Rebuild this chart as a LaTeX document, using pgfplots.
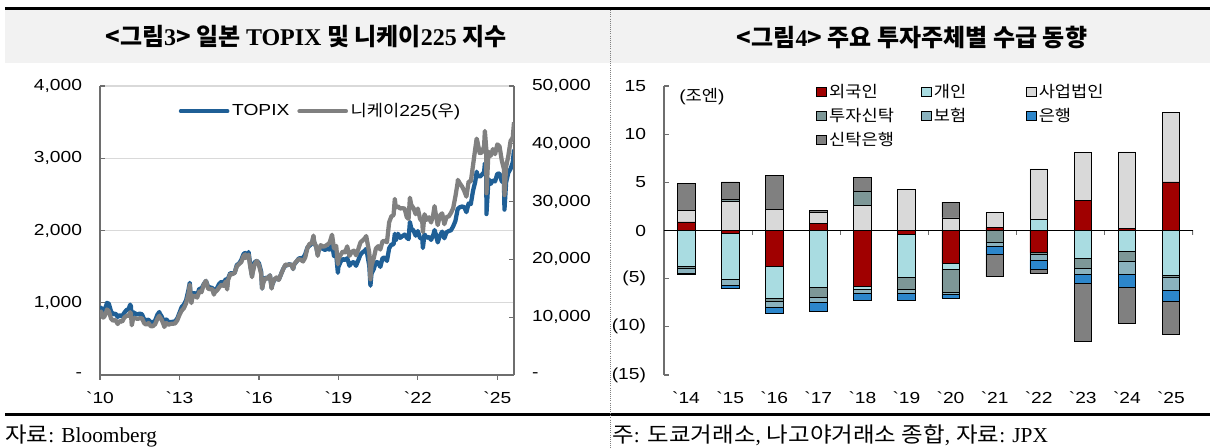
\documentclass[border=0pt]{standalone}
\usepackage{fontspec}
\setmainfont{Liberation Sans}
\newfontfamily\arial{Liberation Sans}[FakeStretch=1.2]
\newfontfamily\kr{Noto Sans CJK KR}
\newfontfamily\krw{Noto Sans CJK KR}[FakeStretch=1.1]
\newfontfamily\tms{Liberation Serif}
\usepackage{pgfplots}
\usepackage{pgfplotstable}
\pgfplotsset{compat=1.18}

\definecolor{topix}{HTML}{1F5F96}
\definecolor{nk}{HTML}{808080}
\definecolor{cF}{HTML}{A00000}
\definecolor{cI}{HTML}{A9DCE1}
\definecolor{cC}{HTML}{D9D9D9}
\definecolor{cT}{HTML}{7D9797}
\definecolor{cS}{HTML}{8AB2BE}
\definecolor{cB}{HTML}{2C86CB}
\definecolor{cTB}{HTML}{808080}
\definecolor{band}{HTML}{F2F2F2}
\definecolor{gridc}{HTML}{D9D9D9}
\definecolor{axisdark}{HTML}{6E6E6E}

\newcommand\tf{\arial\fontsize{12}{14}\selectfont}
\newcommand\krb{\kr\bfseries}
\newcommand\tmsb{\tms\bfseries}

% TOPIX (left) and Nikkei 225 (right), decimal years
\pgfplotstableread{
t        topix nikkei
2010.000  915 10654
2010.040  930 10982
2010.083  901 10198
2010.120  876  9932
2010.167  894 10126
2010.250  979 11089
2010.260  998 11339
2010.333  987 11057
2010.417  880  9768
2010.500  841  9382
2010.583  850  9537
2010.667  804  8824
2010.750  829  9369
2010.833  810  9202
2010.917  861  9937
2011.000  899 10228
2011.083  911 10237
2011.140  974 10857
2011.167  951 10624
2011.200  766  8605
2011.250  869  9755
2011.333  851  9849
2011.417  838  9693
2011.500  849  9816
2011.583  841  9833
2011.667  770  8955
2011.750  761  8700
2011.833  764  8988
2011.917  729  8434
2012.000  729  8455
2012.083  755  8802
2012.167  835  9723
2012.240  872 10255
2012.250  854 10083
2012.333  808  9520
2012.417  719  8542
2012.425  695  8296
2012.500  770  9006
2012.583  736  8695
2012.667  731  8839
2012.750  737  8870
2012.833  742  8928
2012.917  781  9446
2013.000  860 10395
2013.083  940 11138
2013.167  975 11559
2013.250 1034 12397
2013.333 1165 13860
2013.390 1276 15627
2013.417 1135 13774
2013.450 1045 12445
2013.500 1133 13677
2013.583 1131 13668
2013.667 1106 13388
2013.750 1194 14455
2013.833 1194 14327
2013.917 1258 15662
2014.000 1302 16291
2014.083 1220 14914
2014.167 1211 14841
2014.250 1203 14828
2014.300 1132 13910
2014.333 1163 14304
2014.417 1202 14632
2014.500 1262 15162
2014.583 1289 15621
2014.667 1277 15425
2014.750 1326 16174
2014.800 1227 14804
2014.833 1333 16414
2014.917 1410 17460
2015.000 1407 17451
2015.083 1415 17674
2015.167 1523 18798
2015.250 1543 19207
2015.333 1592 19520
2015.417 1673 20563
2015.480 1690 20868
2015.500 1630 20236
2015.583 1659 20585
2015.610 1702 20808
2015.667 1537 18890
2015.740 1375 16931
2015.750 1411 17388
2015.833 1558 19083
2015.917 1580 19747
2016.000 1547 19034
2016.083 1432 17518
2016.120 1196 14952
2016.167 1297 16027
2016.250 1347 16759
2016.333 1340 16666
2016.417 1379 17235
2016.480 1204 14952
2016.500 1245 15576
2016.583 1322 16569
2016.667 1329 16887
2016.750 1322 16450
2016.833 1393 17425
2016.917 1469 18308
2017.000 1518 19114
2017.083 1521 19041
2017.167 1535 19119
2017.250 1512 18909
2017.290 1467 18335
2017.333 1531 19197
2017.417 1568 19651
2017.500 1612 20033
2017.583 1618 19925
2017.667 1617 19646
2017.750 1674 20356
2017.833 1765 22012
2017.917 1792 22725
2018.000 1818 22765
2018.060 1911 24124
2018.083 1836 23098
2018.167 1768 22068
2018.220 1665 20617
2018.250 1716 21454
2018.333 1777 22468
2018.417 1747 22202
2018.500 1730 22305
2018.583 1753 22554
2018.667 1735 22865
2018.750 1817 24120
2018.760 1823 24270
2018.833 1646 21920
2018.917 1667 22351
2018.980 1415 19155
2019.000 1494 20015
2019.083 1567 20773
2019.167 1607 21385
2019.250 1591 21206
2019.333 1617 22259
2019.417 1512 20601
2019.500 1551 21276
2019.583 1565 21522
2019.667 1511 20704
2019.750 1587 21756
2019.833 1667 22927
2019.917 1699 23294
2020.000 1721 23657
2020.050 1746 24041
2020.083 1684 23205
2020.167 1510 21143
2020.210 1236 16553
2020.250 1403 18917
2020.333 1464 20194
2020.417 1563 21878
2020.500 1558 22288
2020.583 1496 21710
2020.667 1618 23140
2020.750 1625 23185
2020.833 1579 22977
2020.917 1754 26434
2021.000 1805 27444
2021.083 1808 27663
2021.130 1955 30468
2021.167 1864 28966
2021.250 1954 29179
2021.333 1898 28813
2021.417 1922 28860
2021.500 1944 28792
2021.583 1901 27284
2021.650 1880 27013
2021.700 2118 30670
2021.750 2030 29453
2021.833 2001 28893
2021.917 1928 27822
2022.000 1992 28792
2022.083 1896 27002
2022.167 1886 26527
2022.190 1758 24718
2022.250 1946 27821
2022.333 1899 26848
2022.417 1912 27280
2022.500 1870 26393
2022.583 1940 27802
2022.630 2006 29222
2022.667 1964 28092
2022.750 1835 25937
2022.833 1929 27587
2022.917 1985 27969
2023.000 1892 26095
2023.083 1975 27327
2023.167 1993 27446
2023.250 2003 28041
2023.333 2057 28856
2023.417 2131 30888
2023.500 2289 33189
2023.510 2300 33753
2023.583 2322 33172
2023.667 2332 32619
2023.750 2324 31858
2023.833 2254 30859
2023.917 2374 33487
2024.000 2366 33464
2024.083 2551 36287
2024.167 2675 39166
2024.220 2814 40888
2024.250 2768 40369
2024.333 2743 38406
2024.417 2772 38488
2024.500 2809 39583
2024.530 2929 42224
2024.583 2794 39102
2024.590 2227 31458
2024.667 2712 38648
2024.750 2645 37920
2024.833 2695 39081
2024.917 2680 38208
2025.000 2785 39895
2025.083 2788 39572
2025.167 2682 37156
2025.250 2659 35618
2025.270 2289 31136
2025.333 2667 36045
2025.417 2801 37965
2025.500 2853 40487
2025.583 2943 41069
2025.630 3121 43714
}\idx

% net buying (trillion yen), positive parts
\pgfplotstableread{
x F    I    C    T    S   B   TB
0 0.9  0    1.15 0    0   0   2.85
1 0    0    3.0  0.2  0   0   1.85
2 0    0    2.2  0    0   0   3.55
3 0.7  0    1.2  0    0   0   0.15
4 0    0    2.6  1.45 0   0   1.5
5 0    0    4.25 0    0   0   0
6 0    0    1.3  0    0   0   1.65
7 0.3  0    1.6  0    0   0   0
8 0    1.2  5.2  0    0   0   0
9 3.15 0    4.95 0    0   0   0
10 0.2 0    7.95 0    0   0   0
11 5.05 0   7.2  0    0   0   0
}\postab

% negative parts
\pgfplotstableread{
x F     I     C  T     S     B     TB
0 0     -3.75 0  -0.2  -0.45 -0.15 0
1 -0.25 -4.8  0  0     -0.6  -0.35 0
2 -3.75 -3.25 0  -0.3  -0.7  -0.55 0
3 0     -5.85 0  -1.05 -0.6  -0.9  0
4 -5.8  -0.3  0  0     -0.4  -0.75 0
5 -0.4  -4.5  0  -1.2  -0.45 -0.7  0
6 -3.4  -0.6  0  -2.4  -0.25 -0.35 0
7 0     0     0  -1.25 -0.4  -0.85 -2.3
8 -2.3  0     0  -0.15 -0.6  -0.95 -0.4
9 0     -2.9  0  -1.05 -0.55 -1.0  -6.0
10 0    -2.15 0  -1.05 -1.35 -1.3  -3.8
11 0    -4.6  0  -0.3  -1.35 -1.05 -3.45
}\negtab

\pgfplotsset{
  sq/.style={draw=black, line width=0.4pt,
    legend image code/.code={\draw[##1,draw=black,line width=0.4pt] (0pt,-3.6pt) rectangle (7.2pt,3.6pt);}},
  barbox/.style={at={(498pt,-281.25pt)}, anchor=south west, scale only axis,
    width=396.75pt, height=216.75pt, xmin=-0.5, xmax=11.5, ymin=-15, ymax=15,
    ybar stacked, bar width=13.1pt},
  linebox/.style={at={(75pt,-281.25pt)}, anchor=south west, scale only axis,
    width=310.5pt, height=216.75pt, xmin=2010, xmax=2025.63},
}

\begin{document}
\begin{tikzpicture}
\path[use as bounding box] (0,0) rectangle (907.5pt,-336pt);
\begin{scope}[x=0.75pt,y=-0.75pt]
  \fill[band] (5,10) rectangle (1210,63);
  \fill[black] (5,7) rectangle (1210,10);
  \fill[black] (5,413.3) rectangle (1210,415.7);
  \draw[gray, densely dotted, line width=0.6pt] (610,10) -- (610,448);
  \node[font=\fontsize{18}{20}\selectfont] at (306,37)
    {\krb <그림{\tmsb 3}> 일본 {\tmsb TOPIX} 및 니케이{\tmsb 225} 지수};
  \node[font=\fontsize{18}{20}\selectfont] at (912,37)
    {\krb <그림{\tmsb 4}> 주요 투자주체별 수급 동향};
  \node[anchor=base west, inner sep=0pt, font=\fontsize{16}{18}\selectfont] at (5,443)
    {{\krw 자료}{\tms : Bloomberg}};
  \node[anchor=base west, inner sep=0pt, font=\fontsize{16}{18}\selectfont] at (612,443)
    {{\krw 주}{\tms :} {\krw 도쿄거래소}{\tms ,} {\krw 나고야거래소 종합}{\tms ,} {\krw 자료}{\tms : JPX}};
  \node[anchor=west, inner sep=0pt, font=\fontsize{12}{14}\selectfont] at (679,97)
    {{\arial (}{\krw 조엔}{\arial )}};
\end{scope}

% left chart, left axis
\begin{axis}[linebox, ymin=0, ymax=4000,
  axis x line*=bottom, axis y line*=left,
  axis line style={-, draw=axisdark, line width=0.9pt},
  xtick={2010,2013,2016,2019,2022,2025},
  xticklabels={`10,`13,`16,`19,`22,`25},
  ytick={0,1000,2000,3000,4000},
  yticklabels={-,{1,000},{2,000},{3,000},{4,000}},
  tick align=inside, major tick length=3.5pt,
  tick style={draw=axisdark, line width=0.9pt},
  major x tick style={yshift=-3.5pt},
  ymajorgrids, y grid style={draw=gridc, line width=0.9pt},
  ticklabel style={font=\tf},
  yticklabel style={xshift=-10pt},
  xticklabel style={yshift=-9pt},
]
\addplot[topix, line width=3.2pt, line join=round] table[x=t, y=topix] {\idx};
\end{axis}

% left chart, right axis
\begin{axis}[linebox, ymin=0, ymax=50000,
  axis x line=none, axis y line*=right, scaled y ticks=false,
  axis line style={-, draw=axisdark, line width=0.9pt},
  ytick={0,10000,20000,30000,40000,50000},
  yticklabels={-,{10,000},{20,000},{30,000},{40,000},{50,000}},
  tick align=inside, major tick length=3.5pt,
  tick style={draw=axisdark, line width=0.9pt},
  ticklabel style={font=\tf},
  yticklabel style={xshift=10pt},
  legend style={at={(axis description cs:0.18,0.913)}, anchor=west, draw=none, fill=none,
    legend columns=2, font=\tf, /tikz/every even column/.append style={column sep=4pt}},
  legend image code/.code={\draw[#1, line width=3pt, line cap=round] (0pt,0pt) -- (35pt,0pt);},
]
\addlegendimage{topix, line width=3pt}
\addlegendentry{TOPIX}
\addplot[nk, line width=3.2pt, line join=round] table[x=t, y=nikkei] {\idx};
\addlegendentry{{\krw 니케이}225({\krw 우})}
\end{axis}

% right chart, positive stacks
\begin{axis}[barbox,
  axis y line*=left, axis x line*=bottom,
  axis line style={-}, y axis line style={draw=axisdark, line width=0.9pt},
  x axis line style={draw=none},
  xtick={0,...,11},
  xticklabels={`14,`15,`16,`17,`18,`19,`20,`21,`22,`23,`24,`25},
  xtick style={draw=none},
  ytick={-15,-10,-5,0,5,10,15},
  yticklabels={(15),(10),(5),0,5,10,15},
  tick align=inside, major tick length=3.5pt,
  ytick style={draw=axisdark, line width=0.9pt},
  ticklabel style={font=\tf},
  yticklabel style={xshift=-10pt},
  xticklabel style={yshift=-9pt},
  legend style={at={(axis description cs:0.28,1.026)}, anchor=north west, draw=none, fill=none,
    legend columns=3, font=\krw\fontsize{12}{14}\selectfont, row sep=2.5pt,
    /tikz/every even column/.append style={text width=67pt}},
]
\addplot[sq, fill=cF]  table[x=x, y=F]  {\postab}; \addlegendentry{외국인}
\addplot[sq, fill=cI]  table[x=x, y=I]  {\postab}; \addlegendentry{개인}
\addplot[sq, fill=cC]  table[x=x, y=C]  {\postab}; \addlegendentry{사업법인}
\addplot[sq, fill=cT]  table[x=x, y=T]  {\postab}; \addlegendentry{투자신탁}
\addplot[sq, fill=cS]  table[x=x, y=S]  {\postab}; \addlegendentry{보험}
\addplot[sq, fill=cB]  table[x=x, y=B]  {\postab}; \addlegendentry{은행}
\addplot[sq, fill=cTB] table[x=x, y=TB] {\postab}; \addlegendentry{신탁은행}
\end{axis}

% right chart, negative stacks
\begin{axis}[barbox, hide axis]
\addplot[sq, fill=cF]  table[x=x, y=F]  {\negtab};
\addplot[sq, fill=cI]  table[x=x, y=I]  {\negtab};
\addplot[sq, fill=cC]  table[x=x, y=C]  {\negtab};
\addplot[sq, fill=cT]  table[x=x, y=T]  {\negtab};
\addplot[sq, fill=cS]  table[x=x, y=S]  {\negtab};
\addplot[sq, fill=cB]  table[x=x, y=B]  {\negtab};
\addplot[sq, fill=cTB] table[x=x, y=TB] {\negtab};
\draw[black, line width=0.9pt] (axis cs:-0.5,0) -- (axis cs:11.5,0);
\pgfplotsinvokeforeach{1.5,3.5,5.5,7.5,9.5,11.5}{
  \draw[axisdark, line width=0.9pt] (axis cs:#1,0) -- ++(0pt,-3.5pt);}
\end{axis}
\end{tikzpicture}
\end{document}
